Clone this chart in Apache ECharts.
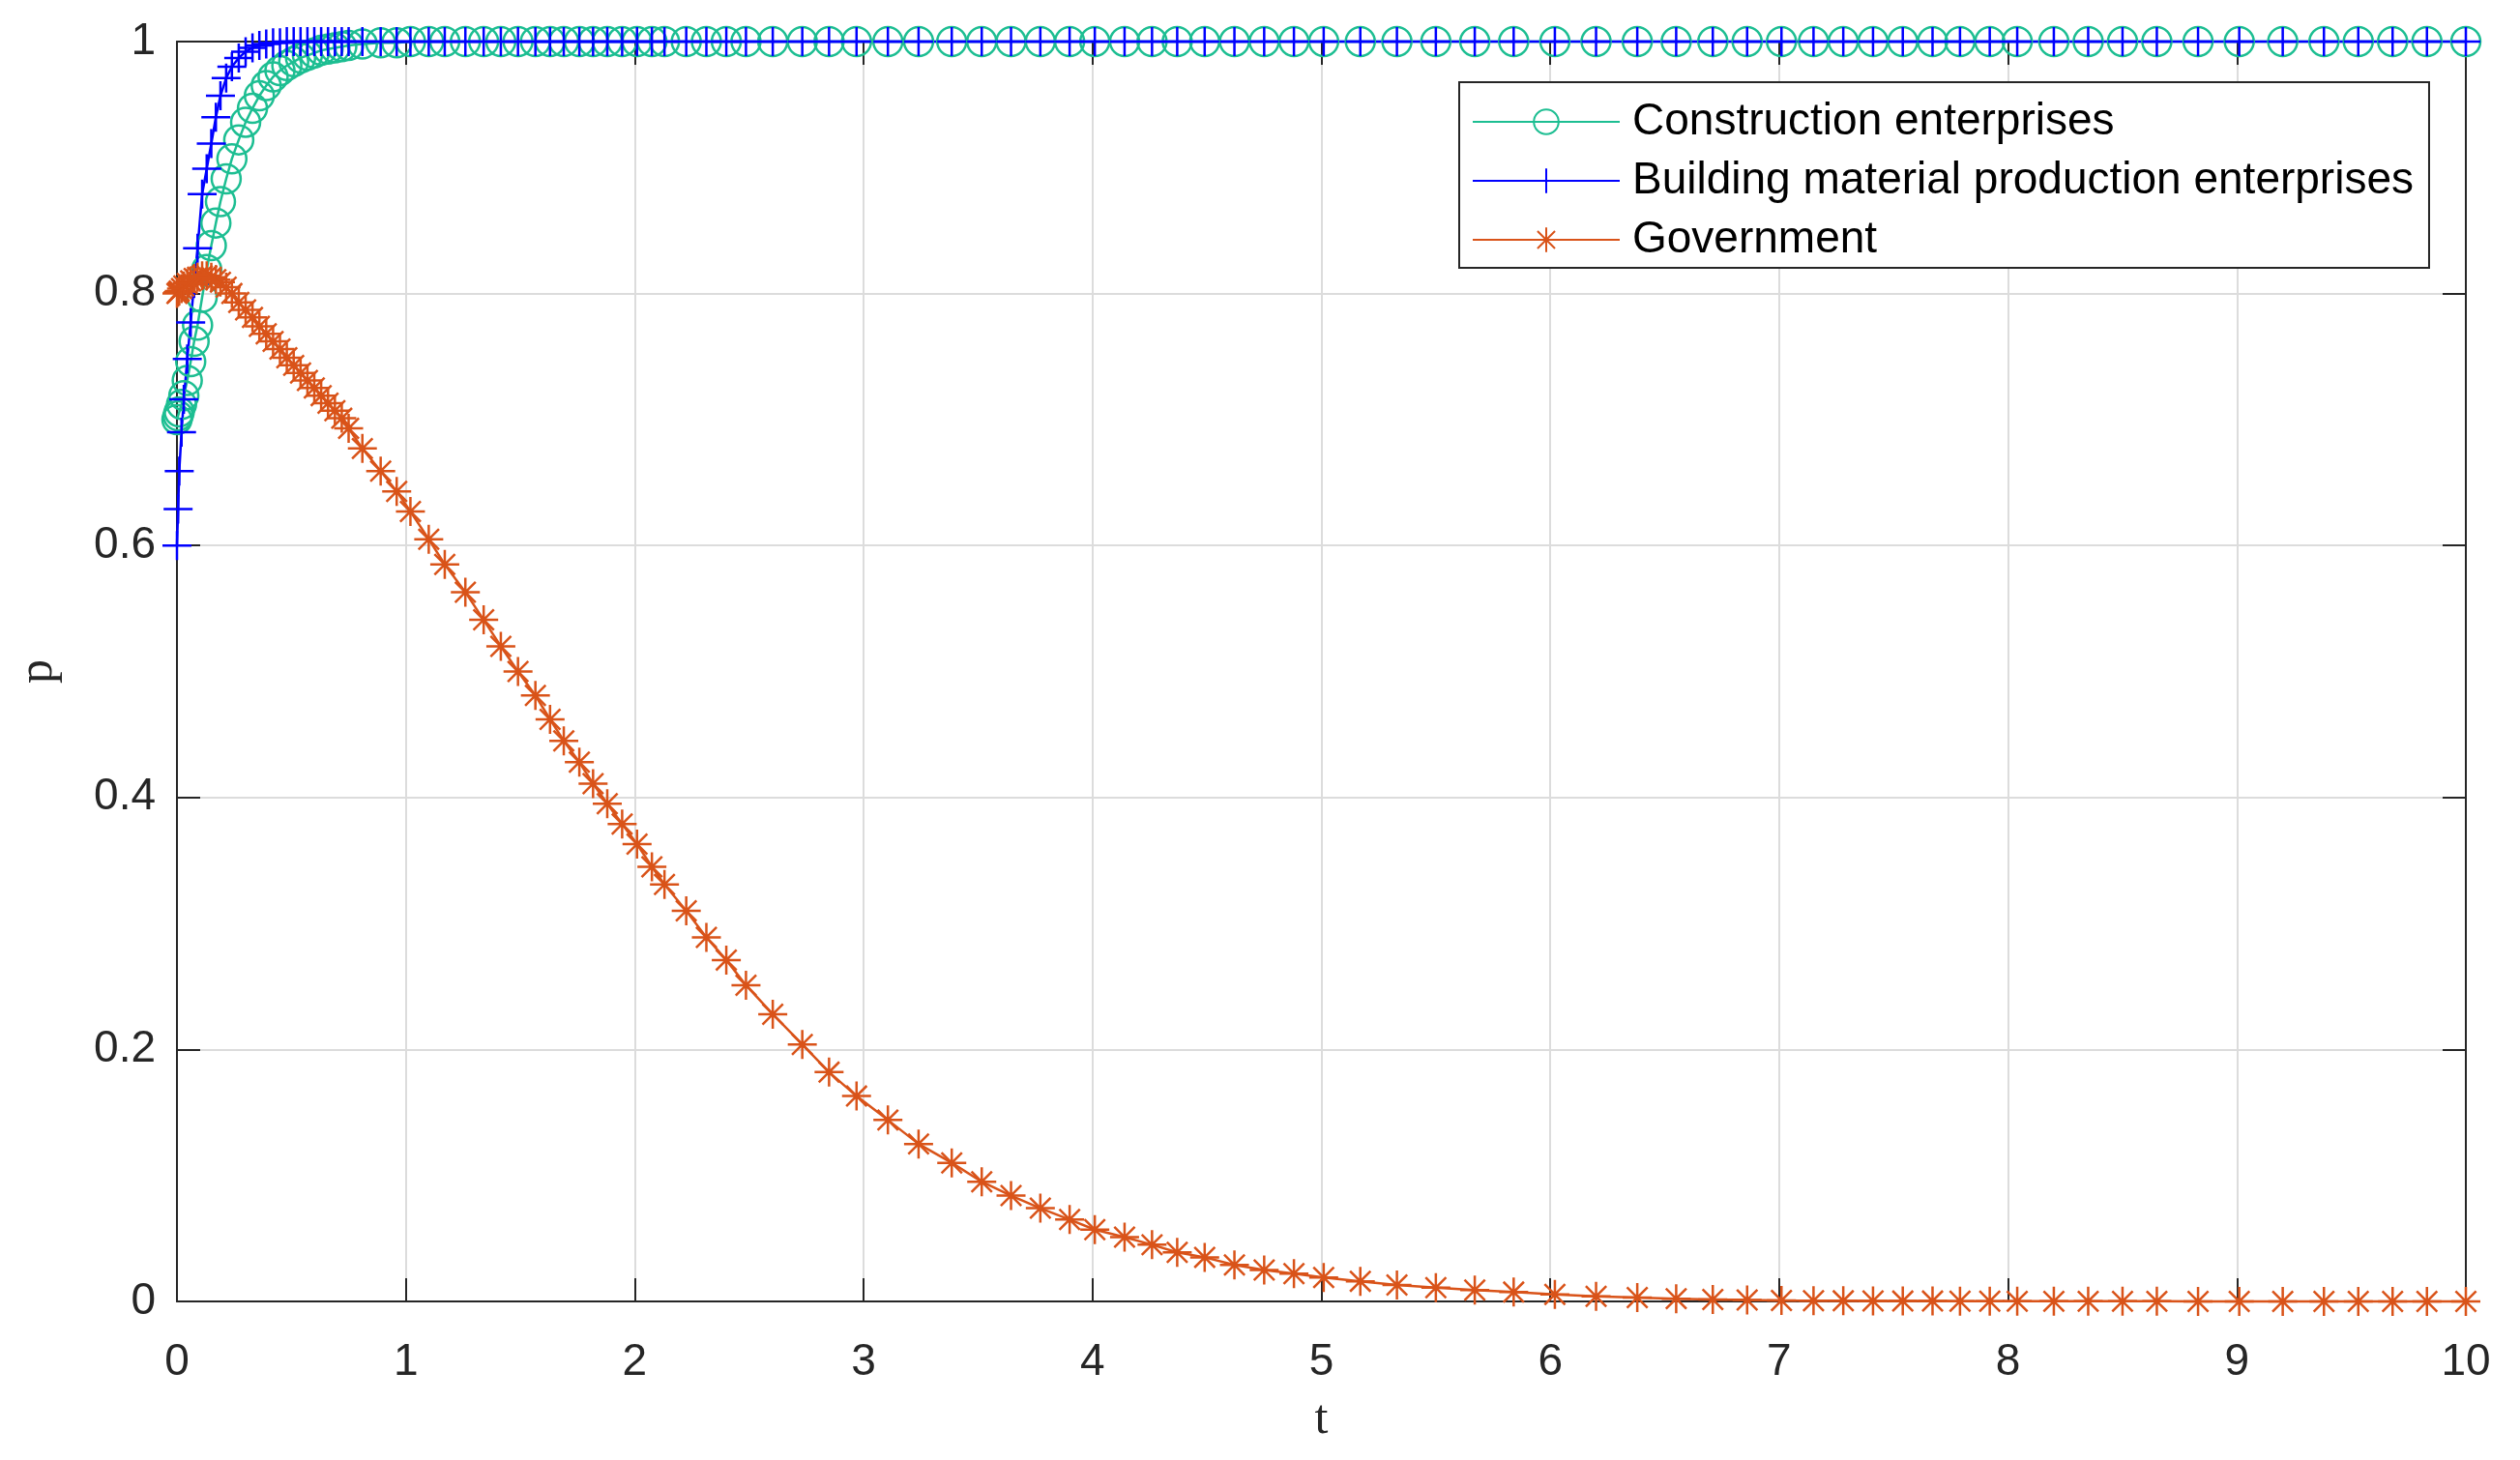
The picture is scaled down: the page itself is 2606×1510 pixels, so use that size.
<!DOCTYPE html>
<html>
<head>
<meta charset="utf-8">
<script src="https://cdn.jsdelivr.net/npm/echarts@6/dist/echarts.min.js"></script>
<style>
html,body{margin:0;padding:0;background:#fff;}
#chart{width:2606px;height:1510px;}
</style>
</head>
<body>
<div id="chart"></div>
<script>
// time grid (solver output points)
var tValues = [0, 0.005, 0.01, 0.02, 0.03, 0.045, 0.06, 0.075, 0.09, 0.11,
  0.13, 0.15, 0.17, 0.19, 0.215, 0.24, 0.27, 0.30, 0.33, 0.36,
  0.39, 0.42, 0.45, 0.48, 0.51, 0.54, 0.57, 0.60, 0.63, 0.66,
  0.69, 0.72, 0.75, 0.81, 0.89, 0.96, 1.02, 1.10, 1.17, 1.26,
  1.34, 1.415, 1.49, 1.566, 1.63, 1.69, 1.758, 1.818, 1.88, 1.945,
  2.01, 2.075, 2.13, 2.225, 2.313, 2.40, 2.486, 2.603, 2.732, 2.849,
  2.969, 3.106, 3.24, 3.385, 3.516, 3.644, 3.772, 3.90, 4.01, 4.14,
  4.26, 4.37, 4.49, 4.62, 4.75, 4.88, 5.01, 5.17, 5.33, 5.50,
  5.67, 5.84, 6.02, 6.20, 6.38, 6.55, 6.71, 6.86, 7.01, 7.15,
  7.28, 7.41, 7.54, 7.67, 7.79, 7.92, 8.04, 8.20, 8.35, 8.50,
  8.65, 8.83, 9.01, 9.20, 9.38, 9.53, 9.68, 9.83, 10.0];

var construction = [0.700, 0.703, 0.706, 0.712, 0.719, 0.731, 0.746, 0.762, 0.775, 0.797,
  0.819, 0.838, 0.856, 0.873, 0.891, 0.907, 0.922, 0.936, 0.947, 0.957,
  0.965, 0.972, 0.977, 0.981, 0.984, 0.987, 0.989, 0.991, 0.993, 0.994,
  0.995, 0.996, 0.997, 0.998, 0.999, 0.999, 1, 1, 1, 1,
  1, 1, 1, 1, 1, 1, 1, 1, 1, 1,
  1, 1, 1, 1, 1, 1, 1, 1, 1, 1,
  1, 1, 1, 1, 1, 1, 1, 1, 1, 1,
  1, 1, 1, 1, 1, 1, 1, 1, 1, 1,
  1, 1, 1, 1, 1, 1, 1, 1, 1, 1,
  1, 1, 1, 1, 1, 1, 1, 1, 1, 1,
  1, 1, 1, 1, 1, 1, 1, 1, 1];

var building = [0.600, 0.629, 0.659, 0.690, 0.716, 0.748, 0.777, 0.808, 0.836, 0.879,
  0.899, 0.919, 0.940, 0.957, 0.971, 0.980, 0.987, 0.992, 0.995, 0.997,
  0.998, 0.999, 0.999, 1, 1, 1, 1, 1, 1, 1,
  1, 1, 1, 1, 1, 1, 1, 1, 1, 1,
  1, 1, 1, 1, 1, 1, 1, 1, 1, 1,
  1, 1, 1, 1, 1, 1, 1, 1, 1, 1,
  1, 1, 1, 1, 1, 1, 1, 1, 1, 1,
  1, 1, 1, 1, 1, 1, 1, 1, 1, 1,
  1, 1, 1, 1, 1, 1, 1, 1, 1, 1,
  1, 1, 1, 1, 1, 1, 1, 1, 1, 1,
  1, 1, 1, 1, 1, 1, 1, 1, 1];

var government = [0.800, 0.801, 0.802, 0.804, 0.806, 0.808, 0.810, 0.812, 0.813, 0.814,
  0.814, 0.813, 0.811, 0.809, 0.805, 0.800, 0.793, 0.787, 0.781, 0.774,
  0.768, 0.762, 0.756, 0.749, 0.743, 0.737, 0.731, 0.725, 0.719, 0.713,
  0.707, 0.701, 0.693, 0.677, 0.659, 0.643, 0.627, 0.605, 0.585, 0.563,
  0.541, 0.520, 0.500, 0.481, 0.462, 0.445, 0.428, 0.411, 0.395, 0.379,
  0.363, 0.345, 0.331, 0.310, 0.289, 0.271, 0.251, 0.228, 0.204, 0.182,
  0.163, 0.144, 0.125, 0.110, 0.095, 0.084, 0.074, 0.065, 0.057, 0.051,
  0.045, 0.039, 0.035, 0.029, 0.025, 0.022, 0.019, 0.016, 0.013, 0.011,
  0.009, 0.0074, 0.0056, 0.0041, 0.0031, 0.0022, 0.0016, 0.0011, 0.0008, 0.0006,
  0.0005, 0.0004, 0.0003, 0.0003, 0.0002, 0.0002, 0.0001, 0.0001, 0.0001, 0.0001,
  0.0001, 0, 0, 0, 0, 0, 0, 0, 0];

var seriesNames = ['Construction enterprises', 'Building material production enterprises', 'Government'];
var xTicks = [0, 10, 1];
var yTicks = [0, 1, 0.2];

function pairs(ys) {
  var out = [];
  for (var i = 0; i < tValues.length; i++) out.push([tValues[i], ys[i]]);
  return out;
}

var GREEN = '#1DBE92', BLUE = '#0000FF', ORANGE = '#D95319';
var AXC = '#262626';
var PLUS = 'path://M0,-10L0,10M-10,0L10,0';
var STAR = 'path://M0,-10L0,10M-10,0L10,0M-7.07,-7.07L7.07,7.07M-7.07,7.07L7.07,-7.07';

var chart = echarts.init(document.getElementById('chart'), null, {renderer: 'canvas'});
var labelFont = {fontFamily: 'Liberation Sans, Arial, sans-serif', fontSize: 46, color: AXC};
function boxAxis(extra) {
  return Object.assign({
    axisLine: {show: true, onZero: false, lineStyle: {color: AXC, width: 2}},
    axisTick: {show: true, inside: true, length: 24, lineStyle: {color: AXC, width: 2}}
  }, extra);
}
var option = {
  backgroundColor: '#fff',
  animation: false,
  grid: {left: 183, right: 56, top: 43, bottom: 164, containLabel: false},
  legend: {
    orient: 'vertical',
    left: 1509, top: 85,
    padding: [16, 16, 4, 13],
    itemGap: 11,
    itemWidth: 152,
    itemHeight: 32,
    borderColor: AXC, borderWidth: 2,
    backgroundColor: '#fff',
    textStyle: {fontFamily: 'Liberation Sans, Arial, sans-serif', fontSize: 46, color: '#000', lineHeight: 50, padding: [0, 0, 0, 8]},
    data: seriesNames
  },
  xAxis: [boxAxis({
    type: 'value', min: xTicks[0], max: xTicks[1], interval: xTicks[2],
    name: 't', nameLocation: 'middle', nameGap: 98,
    nameTextStyle: {fontFamily: 'Liberation Serif, Times New Roman, serif', fontSize: 50, color: AXC},
    axisLabel: Object.assign({margin: 40}, labelFont),
    splitLine: {show: true, lineStyle: {color: '#DCDCDC', width: 2}}
  }), boxAxis({
    type: 'value', position: 'top', min: xTicks[0], max: xTicks[1], interval: xTicks[2],
    axisLabel: {show: false}, splitLine: {show: false}
  })],
  yAxis: [boxAxis({
    type: 'value', min: yTicks[0], max: yTicks[1], interval: yTicks[2],
    name: 'p', nameLocation: 'middle', nameGap: 118,
    nameTextStyle: {fontFamily: 'Liberation Serif, Times New Roman, serif', fontSize: 50, color: AXC},
    axisLabel: Object.assign({margin: 22}, labelFont),
    splitLine: {show: true, lineStyle: {color: '#DCDCDC', width: 2}}
  }), boxAxis({
    type: 'value', position: 'right', min: yTicks[0], max: yTicks[1], interval: yTicks[2],
    axisLabel: {show: false}, splitLine: {show: false}
  })],
  series: [{
    name: seriesNames[0], type: 'line', data: pairs(construction),
    symbol: 'circle', symbolSize: 30, clip: false,
    lineStyle: {color: GREEN, width: 2.5},
    itemStyle: {color: 'rgba(0,0,0,0)', borderColor: GREEN, borderWidth: 2.5},
    emphasis: {disabled: true}
  }, {
    name: seriesNames[1], type: 'line', data: pairs(building),
    symbol: PLUS, symbolSize: 30, clip: false,
    lineStyle: {color: BLUE, width: 2.5},
    itemStyle: {color: BLUE, borderColor: BLUE, borderWidth: 2.5},
    emphasis: {disabled: true}
  }, {
    name: seriesNames[2], type: 'line', data: pairs(government),
    symbol: STAR, symbolSize: 30, clip: false,
    lineStyle: {color: ORANGE, width: 2.5},
    itemStyle: {color: ORANGE, borderColor: ORANGE, borderWidth: 2.5},
    emphasis: {disabled: true}
  }]
};
chart.setOption(option);
</script>
</body>
</html>
